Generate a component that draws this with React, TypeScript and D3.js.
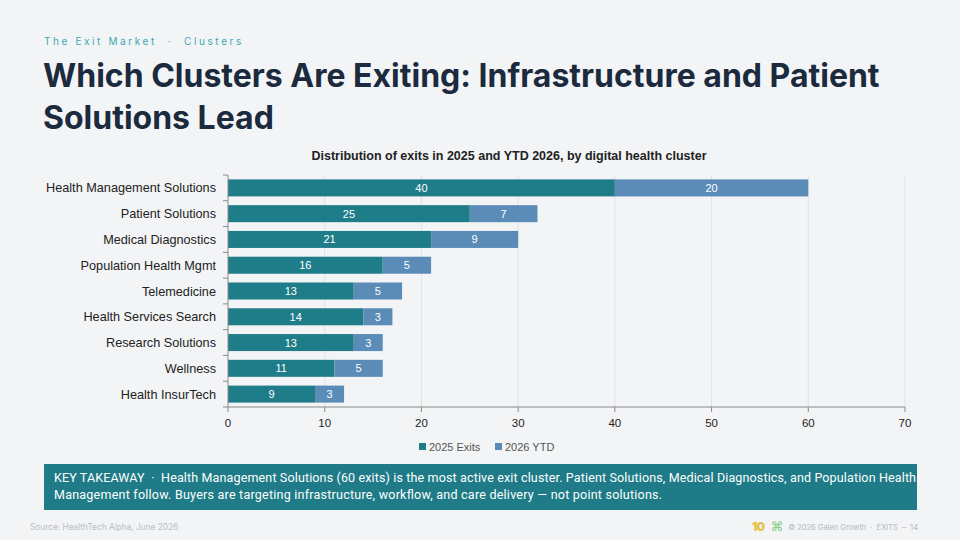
import * as d3 from "d3";

// Chart data
const CLUSTERS = [
  "Health Management Solutions",
  "Patient Solutions",
  "Medical Diagnostics",
  "Population Health Mgmt",
  "Telemedicine",
  "Health Services Search",
  "Research Solutions",
  "Wellness",
  "Health InsurTech",
];
const EXITS_2025 = [40, 25, 21, 16, 13, 14, 13, 11, 9];
const YTD_2026 = [20, 7, 9, 5, 5, 3, 3, 5, 3];
const X_TICKS = [0, 10, 20, 30, 40, 50, 60, 70];

const SERIES = [
  { key: "exits", label: "2025 Exits", color: "#1f7d89", values: EXITS_2025 },
  { key: "ytd", label: "2026 YTD", color: "#5b8cb8", values: YTD_2026 },
];

const W = 960;
const H = 540;
const plot = { left: 228, right: 905, top: 175, bottom: 407 };
const pre = { whiteSpace: "pre" as const };

export default function App() {
  const x = d3.scaleLinear().domain([0, 70]).range([plot.left, plot.right]);
  const y = d3
    .scaleBand<string>()
    .domain(CLUSTERS)
    .range([plot.top, plot.bottom])
    .paddingInner(0.34)
    .paddingOuter(0.17);

  // stack the two series
  const rows = CLUSTERS.map((c, i) => ({ cluster: c, exits: EXITS_2025[i], ytd: YTD_2026[i] }));
  const stacked = d3.stack<any>().keys(["exits", "ytd"])(rows);

  const bandStep = y.step();
  const boundaries = d3.range(CLUSTERS.length + 1).map((i) => plot.top + i * bandStep);

  return (
    <svg
      width={W}
      height={H}
      style={{ position: "absolute", left: 0, top: 0, background: "#f2f4f6" }}
      fontFamily="Liberation Sans, Arial, sans-serif"
    >
      <rect width={W} height={H} fill="#f2f4f6" />

      {/* header */}
      <text x={44} y={45} fontSize={10} fill="#3aa9b2" letterSpacing={2.6} fontFamily="Inter, sans-serif" style={pre}>
        The Exit Market  ·  Clusters
      </text>
      <text fontSize={32} fontWeight={700} fill="#1b2a3d" fontFamily="Inter, sans-serif">
        <tspan x={43} y={87}>Which Clusters Are Exiting: Infrastructure and Patient</tspan>
        <tspan x={43} y={129}>Solutions Lead</tspan>
      </text>

      {/* chart title */}
      <text x={509} y={160} textAnchor="middle" fontSize={12.5} fontWeight={700} fill="#222">
        Distribution of exits in 2025 and YTD 2026, by digital health cluster
      </text>

      {/* gridlines */}
      {X_TICKS.slice(1).map((t) => (
        <line key={t} x1={x(t)} x2={x(t)} y1={plot.top} y2={plot.bottom} stroke="#dfe2e6" />
      ))}

      {/* bars */}
      {stacked.map((layer, si) => (
        <g key={layer.key} fill={SERIES[si].color}>
          {layer.map((d) => {
            const c = d.data.cluster;
            const x0 = x(d[0]);
            const x1 = x(d[1]);
            return (
              <g key={c}>
                <rect x={x0} y={y(c)} width={x1 - x0} height={y.bandwidth()} />
                <text
                  x={(x0 + x1) / 2}
                  y={(y(c) ?? 0) + y.bandwidth() / 2 + 4}
                  textAnchor="middle"
                  fontSize={11}
                  fill="#ffffff"
                >
                  {d[1] - d[0]}
                </text>
              </g>
            );
          })}
        </g>
      ))}

      {/* y axis */}
      <line x1={plot.left} x2={plot.left} y1={plot.top} y2={plot.bottom} stroke="#8a8a8a" />
      {boundaries.map((b, i) => (
        <line key={i} x1={plot.left - 5} x2={plot.left} y1={b} y2={b} stroke="#8a8a8a" />
      ))}
      {CLUSTERS.map((c) => (
        <text
          key={c}
          x={216}
          y={(y(c) ?? 0) + y.bandwidth() / 2 + 4.5}
          textAnchor="end"
          fontSize={12.7}
          fill="#222"
        >
          {c}
        </text>
      ))}

      {/* x axis */}
      <line x1={plot.left} x2={plot.right} y1={plot.bottom} y2={plot.bottom} stroke="#8a8a8a" />
      {X_TICKS.map((t) => (
        <g key={t}>
          <line x1={x(t)} x2={x(t)} y1={plot.bottom} y2={plot.bottom + 5} stroke="#8a8a8a" />
          <text x={x(t)} y={plot.bottom + 20} textAnchor="middle" fontSize={11.5} fill="#222">
            {t}
          </text>
        </g>
      ))}

      {/* legend */}
      {SERIES.map((s, i) => {
        const lx = i === 0 ? 419 : 495;
        return (
          <g key={s.key}>
            <rect x={lx} y={443} width={7} height={7} fill={s.color} />
            <text x={lx + 10} y={451} fontSize={11} fill="#555">
              {s.label}
            </text>
          </g>
        );
      })}

      {/* takeaway box */}
      <rect x={44} y={464} width={873} height={46} fill="#1e7b87" />
      <text fontSize={12.5} fill="#ffffff" fontFamily="Roboto, sans-serif" style={pre}>
        <tspan x={54} y={482} textLength={862} lengthAdjust="spacing">
          KEY TAKEAWAY  ·  Health Management Solutions (60 exits) is the most active exit cluster. Patient Solutions, Medical Diagnostics, and Population Health
        </tspan>
        <tspan x={54} y={499} textLength={608} lengthAdjust="spacing">
          Management follow. Buyers are targeting infrastructure, workflow, and care delivery — not point solutions.
        </tspan>
      </text>

      {/* footer */}
      <text x={30} y={530} fontSize={8.3} fill="#b9bec4" fontFamily="Inter, sans-serif">
        Source: HealthTech Alpha, June 2026
      </text>
      <text x={752} y={531} fontSize={12} fontWeight={900} fill="#e2c34a" fontFamily="Inter, sans-serif" letterSpacing={-1}>
        10
      </text>
      <text x={771} y={531} fontSize={13} fontWeight={700} fill="#8fd08f" fontFamily="DejaVu Sans, sans-serif">
        ⌘
      </text>
      <text x={918} y={530} textAnchor="end" fontSize={7.5} fill="#b3b8be" fontFamily="Inter, sans-serif" style={pre}>
        © 2026 Galen Growth  ·  EXITS  –  14
      </text>
    </svg>
  );
}
